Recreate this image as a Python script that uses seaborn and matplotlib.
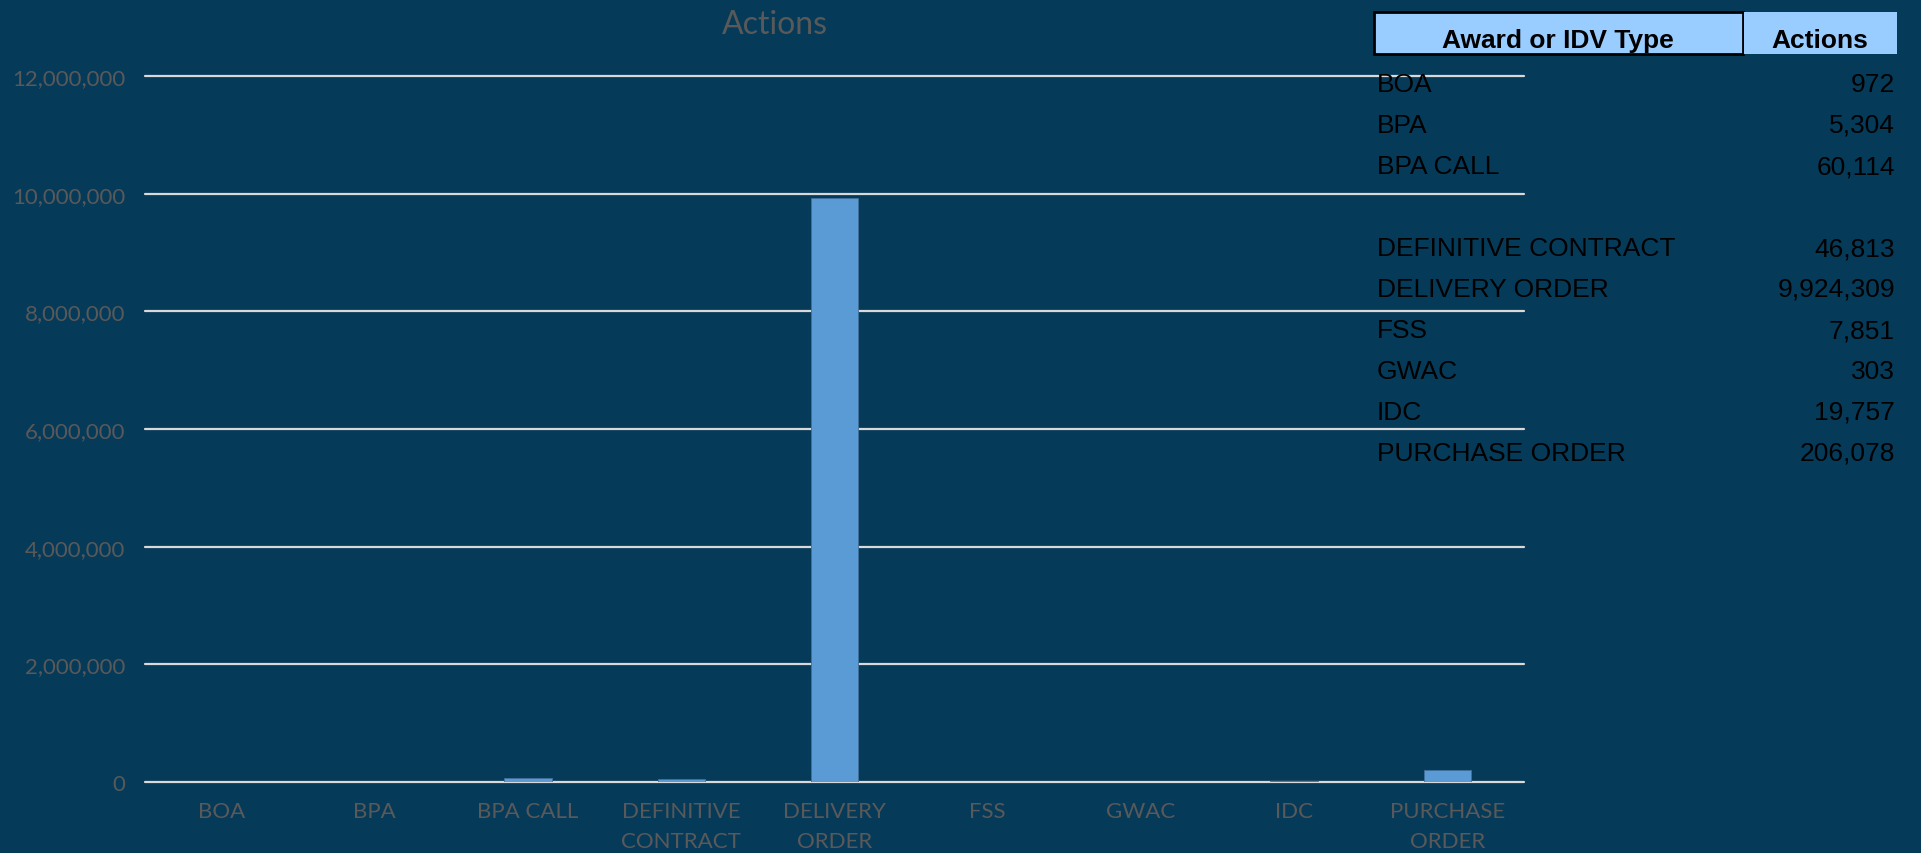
import matplotlib
matplotlib.use('Agg')
import matplotlib.pyplot as plt
import matplotlib.ticker as mticker
from matplotlib.patches import Rectangle
import seaborn as sns

award_types = ['BOA', 'BPA', 'BPA CALL', 'DEFINITIVE CONTRACT', 'DELIVERY ORDER',
               'FSS', 'GWAC', 'IDC', 'PURCHASE ORDER']
actions = [972, 5304, 60114, 46813, 9924309, 7851, 303, 19757, 206078]
tick_labels = ['BOA', 'BPA', 'BPA CALL', 'DEFINITIVE\nCONTRACT', 'DELIVERY\nORDER',
               'FSS', 'GWAC', 'IDC', 'PURCHASE\nORDER']
y_ticks = [0, 2000000, 4000000, 6000000, 8000000, 10000000, 12000000]

bg = '#063A59'
grey = '#595959'
W, H = 1921, 854

sns.set_style('white')
plt.rcParams['font.family'] = ['Lato', 'DejaVu Sans']

fig = plt.figure(figsize=(W / 100, H / 100), dpi=100, facecolor=bg)
ax = fig.add_axes([145 / W, 1 - 783 / H, (1524 - 145) / W, (783 - 77) / H])
ax.set_facecolor(bg)

sns.barplot(x=tick_labels, y=actions, color='#5B9BD5', saturation=1, width=0.31,
            edgecolor='#41719C', linewidth=0.6, ax=ax)

ax.set_xlim(-0.5, 8.5)
ax.set_ylim(0, 12000000)
ax.set_yticks(y_ticks)
ax.yaxis.set_major_formatter(mticker.FuncFormatter(lambda v, p: f'{v:,.0f}'))
ax.set_axisbelow(True)
ax.yaxis.grid(True, color='#D9D9D9', linewidth=1.6)
for gl in ax.get_ygridlines():
    gl.set_clip_on(False)
ax.xaxis.grid(False)
for s in ax.spines.values():
    s.set_visible(False)
ax.tick_params(axis='both', length=0, colors=grey, labelsize=16)
ax.tick_params(axis='y', pad=14)
ax.tick_params(axis='x', pad=14)
for lbl in ax.get_xticklabels():
    lbl.set_linespacing(1.6)
    lbl.set_verticalalignment('top')

fig.text(775 / W, 1 - 25 / H, 'Actions', ha='center', va='center',
         fontsize=23, color=grey)

# table on the right
tfont = ['Liberation Sans', 'DejaVu Sans']
hy0, hy1 = 13, 55
fig.patches.append(Rectangle((1374 / W, 1 - hy1 / H), (1743 - 1374) / W, (hy1 - hy0) / H,
                             transform=fig.transFigure, facecolor='#99CCFF',
                             edgecolor='black', linewidth=2))
fig.patches.append(Rectangle((1744 / W, 1 - hy1 / H), (1897 - 1744) / W, (hy1 - hy0) / H,
                             transform=fig.transFigure, facecolor='#99CCFF',
                             edgecolor='none'))
fig.text(1558 / W, 1 - 41 / H, 'Award or IDV Type', ha='center', va='center',
         fontsize=19, fontweight='bold', family=tfont, color='black')
fig.text(1820 / W, 1 - 41 / H, 'Actions', ha='center', va='center',
         fontsize=19, fontweight='bold', family=tfont, color='black')

slot = 0
for name, val in zip(award_types, actions):
    if slot == 3:
        slot += 1
    y = 85 + 41 * slot
    fig.text(1377 / W, 1 - y / H, name, ha='left', va='center',
             fontsize=19, family=tfont, color='black')
    fig.text(1895 / W, 1 - y / H, f'{val:,}', ha='right', va='center',
             fontsize=19, family=tfont, color='black')
    slot += 1

fig.savefig('out.png', dpi=100, facecolor=bg)
